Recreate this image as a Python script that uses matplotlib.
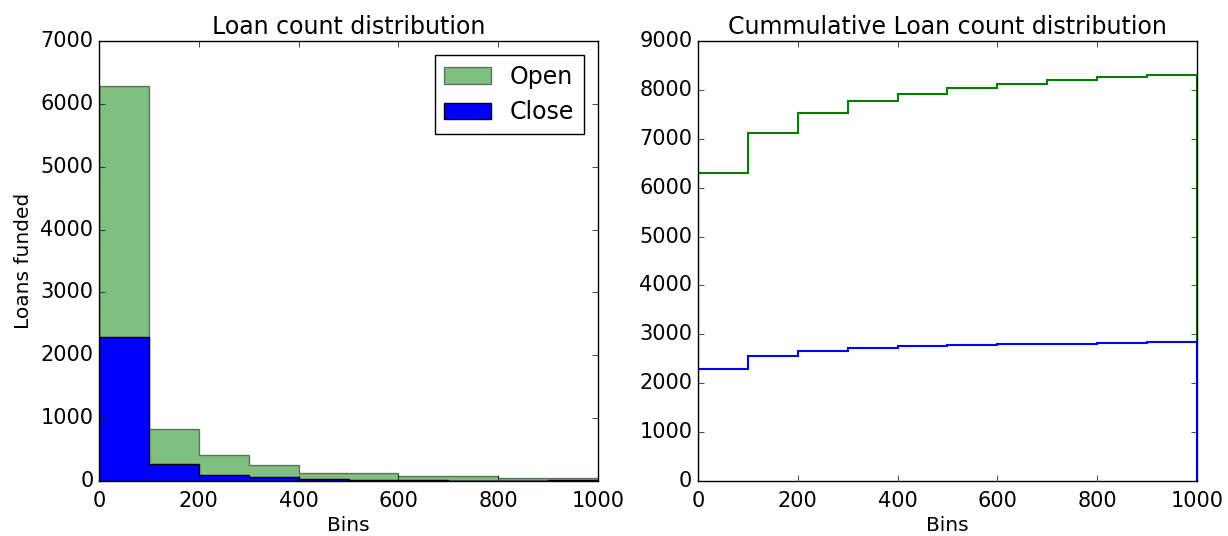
import matplotlib
matplotlib.use('Agg')
import matplotlib.pyplot as plt
import numpy as np

# bin edges and counts
bin_edges = [0, 100, 200, 300, 400, 500, 600, 700, 800, 900, 1000]
open_counts = [6290, 820, 410, 260, 135, 130, 80, 75, 55, 45]
close_counts = [2290, 270, 100, 70, 35, 22, 15, 8, 8, 20]

plt.style.use('classic')
plt.rcParams['xtick.labelsize'] = 15
plt.rcParams['ytick.labelsize'] = 15
plt.rcParams['xtick.major.pad'] = 7.5
plt.rcParams['axes.labelsize'] = 14.5
plt.rcParams['axes.titlesize'] = 17
plt.rcParams['legend.fontsize'] = 17

bin_mids = np.array(bin_edges[:-1]) + 50

fig = plt.figure(figsize=(12.28, 5.36), dpi=100)
fig.subplots_adjust(left=0.0806, right=0.9748, bottom=0.1026, top=0.9235, wspace=0.2)

# 左图: 分布
ax1 = fig.add_subplot(1, 2, 1)
ax1.hist(bin_mids, bins=bin_edges, weights=open_counts, histtype='stepfilled',
         color='g', alpha=0.5, label='Open')
ax1.hist(bin_mids, bins=bin_edges, weights=close_counts, histtype='stepfilled',
         color='b', label='Close')
ax1.set_title('Loan count distribution')
ax1.set_xlabel('Bins', labelpad=3)
ax1.set_ylabel('Loans funded')
ax1.legend(borderaxespad=0.6)

# 右图: 累计分布
ax2 = fig.add_subplot(1, 2, 2)
ax2.hist(bin_mids, bins=bin_edges, weights=open_counts, histtype='step',
         cumulative=True, color='g', linewidth=1.5)
ax2.hist(bin_mids, bins=bin_edges, weights=close_counts, histtype='step',
         cumulative=True, color='b', linewidth=1.5)
ax2.set_title('Cummulative Loan count distribution')
ax2.set_xlabel('Bins', labelpad=3)

fig.savefig('out.png', dpi=100)
